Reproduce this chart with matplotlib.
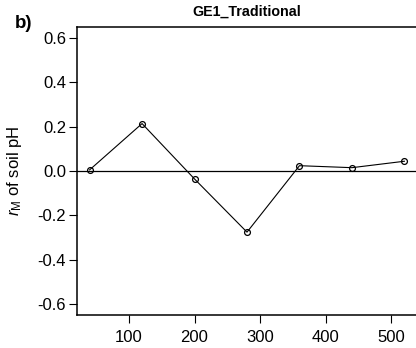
import matplotlib
matplotlib.use("Agg")
import matplotlib.pyplot as plt

distance = [40, 120, 200, 280, 360, 440, 520]
r_m = [0.005, 0.214, -0.036, -0.276, 0.024, 0.015, 0.044]
x_ticks = [100, 200, 300, 400, 500]
y_ticks = [-0.6, -0.4, -0.2, 0.0, 0.2, 0.4, 0.6]
y_tick_labels = ["-0.6", "-0.4", "-0.2", "0.0", "0.2", "0.4", "0.6"]

plt.rcParams['font.family'] = ['Liberation Sans', 'DejaVu Sans']
plt.rcParams['mathtext.fontset'] = 'custom'
plt.rcParams['mathtext.rm'] = 'Liberation Sans'
plt.rcParams['mathtext.it'] = 'Liberation Sans:italic'

W, H = 416, 348
fig = plt.figure(figsize=(W/100, H/100), dpi=100)
left, right, top, bottom = 77, 417, 27, 315
ax = fig.add_axes([left/W, 1 - bottom/H, (right-left)/W, (bottom-top)/H])

ax.axhline(0, color='black', lw=0.9, zorder=1)
ax.plot(distance, r_m, color='black', lw=0.8, marker='o', markersize=4.2,
        markerfacecolor='none', markeredgecolor='black', markeredgewidth=0.9, zorder=2)

ax.set_xlim(20.8, 539.2)
ax.set_ylim(-0.65, 0.65)
ax.set_xticks(x_ticks)
ax.set_xticklabels([str(t) for t in x_ticks])
ax.set_yticks(y_ticks)
ax.set_yticklabels(y_tick_labels)
ax.tick_params(direction='out', length=5.8, width=0.8, labelsize=12, pad=2, colors='black')
ax.tick_params(axis='x', pad=5)
for s in ax.spines.values():
    s.set_linewidth(1.1)

ax.set_ylabel(r'$r_{\mathrm{M}}$ of soil pH', fontsize=12, labelpad=4)
ax.yaxis.set_label_coords(-0.155, 0.5)
ax.set_title('GE1_Traditional', fontsize=10.3, fontweight='bold', pad=8)
fig.text(15/W, 1 - 23/H, 'b)', fontsize=13.5, fontweight='bold', va='center', ha='left')

fig.savefig('out.png', dpi=100)
